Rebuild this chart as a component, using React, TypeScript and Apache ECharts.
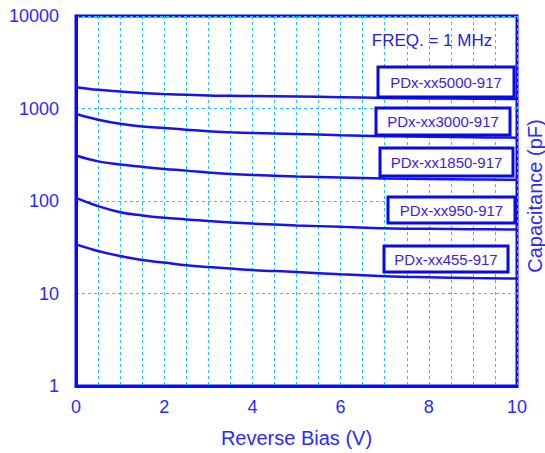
import React, { useEffect, useRef } from "react";
import * as echarts from "echarts";

const biasV = [0, 0.5, 1, 1.5, 2, 2.5, 3, 3.5, 4, 5, 6, 7, 8, 9, 10];
const cap5000 = [1700, 1592, 1527, 1468, 1431, 1406, 1382, 1371, 1362, 1345, 1325, 1300, 1285, 1275, 1268];
const cap3000 = [871, 757, 685, 640, 615, 590, 566, 552, 543, 530, 514, 502, 494, 488, 484];
const cap1850 = [310, 268, 248, 234, 222, 213, 203, 196, 191, 184, 179, 175, 173, 171, 170];
const cap950 = [108, 88, 75.7, 69.8, 65.9, 63.2, 60.6, 58.7, 57, 54.4, 52.7, 50.8, 50, 49.5, 49.2];
const cap455 = [34, 28.8, 25.4, 23, 21.6, 20.2, 19.3, 18.6, 17.9, 17.1, 16.1, 15.4, 15, 14.7, 14.5];

const seriesNames = ["PDx-xx5000-917", "PDx-xx3000-917", "PDx-xx1850-917", "PDx-xx950-917", "PDx-xx455-917"];
const seriesValues = [cap5000, cap3000, cap1850, cap950, cap455];
const xTickLabels = ["0", "2", "4", "6", "8", "10"];
const yTickLabels = ["1", "10", "100", "1000", "10000"];

// label boxes: [x, y, w, h]
const boxes = [
  [378, 67, 136, 30],
  [376, 108, 134, 27],
  [380, 148, 133, 28],
  [388, 197, 127, 26],
  [384, 246, 124, 26],
];

const LINE = "#1414f0";
const AXIS = "#0a0aff";
const LABEL = "#2a2aff";
const GRIDC = "#30c0f0";
const FONT = "'Liberation Sans', Arial, sans-serif";

export default function App() {
  const ref = useRef<HTMLDivElement>(null);
  useEffect(() => {
    if (!ref.current) return;
    const chart = echarts.init(ref.current, null, { renderer: "svg" });
    const graphics: any[] = [];
    boxes.forEach((b, i) => {
      graphics.push({
        type: "rect",
        shape: { x: b[0], y: b[1], width: b[2], height: b[3] },
        style: { fill: "#ffffff", stroke: "#0808e8", lineWidth: 3 },
        z: 100,
      });
      graphics.push({
        type: "text",
        x: b[0] + b[2] / 2,
        y: b[1] + b[3] / 2,
        style: {
          text: seriesNames[i],
          fill: "#3a22dd",
          font: "15px " + FONT,
          align: "center",
          verticalAlign: "middle",
        },
        z: 101,
      });
    });
    graphics.push({
      type: "text",
      x: 432,
      y: 40,
      style: {
        text: "FREQ. = 1 MHz",
        fill: "#2424d0",
        font: "17px " + FONT,
        align: "center",
        verticalAlign: "middle",
      },
      z: 101,
    });
    graphics.push({
      type: "text",
      x: 535,
      y: 196,
      rotation: Math.PI / 2,
      style: {
        text: "Capacitance (pF)",
        fill: LABEL,
        font: "20px " + FONT,
        align: "center",
        verticalAlign: "middle",
      },
      z: 101,
    });

    chart.setOption({
      animation: false,
      grid: {
        left: 76,
        right: 28,
        top: 16,
        bottom: 66,
        show: true,
        borderColor: AXIS,
        borderWidth: 3,
        backgroundColor: "transparent",
        containLabel: false,
      },
      xAxis: {
        type: "value",
        min: 0,
        max: 10,
        interval: 0.5,
        name: "Reverse Bias (V)",
        nameLocation: "middle",
        nameGap: 42,
        nameTextStyle: { color: LABEL, fontSize: 20, fontFamily: FONT },
        axisLine: { show: true, lineStyle: { color: AXIS, width: 3 } },
        axisTick: { show: false },
        axisLabel: {
          color: LABEL,
          fontSize: 18,
          fontFamily: FONT,
          margin: 12,
          formatter: (v: number) => {
            const s = String(Math.round(v * 10) / 10);
            return xTickLabels.includes(s) ? s : "";
          },
        },
        splitLine: { show: true, lineStyle: { color: GRIDC, type: [3, 3], width: 1 } },
      },
      yAxis: {
        type: "log",
        logBase: 10,
        min: 1,
        max: 10000,
        axisLine: { show: true, lineStyle: { color: AXIS, width: 3 } },
        axisTick: { show: false },
        axisLabel: {
          color: LABEL,
          fontSize: 18,
          fontFamily: FONT,
          margin: 17,
          formatter: (v: number) => {
            const s = String(Math.round(v));
            return yTickLabels.includes(s) ? s : "";
          },
        },
        splitLine: { show: true, lineStyle: { color: GRIDC, type: [3, 3], width: 1 } },
      },
      series: seriesValues.map((vals, i) => ({
        name: seriesNames[i],
        type: "line",
        smooth: 0.4,
        showSymbol: false,
        symbol: "none",
        lineStyle: { color: LINE, width: 2.5 },
        data: biasV.map((x, j) => [x, vals[j]]),
        z: 5,
      })),
      graphic: graphics,
    });
    return () => chart.dispose();
  }, []);
  return (
    <div
      ref={ref}
      style={{ position: "fixed", left: 0, top: 0, width: 545, height: 453, background: "#ffffff" }}
    />
  );
}
